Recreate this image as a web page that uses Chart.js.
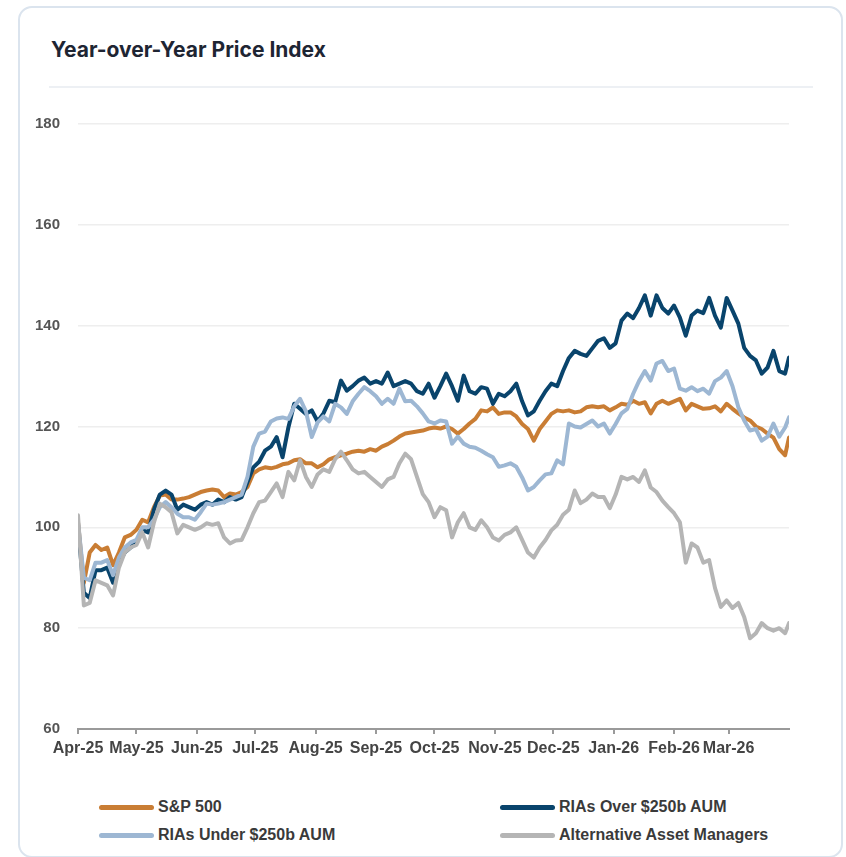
<!DOCTYPE html>
<html>
<head>
<meta charset="utf-8">
<script src="https://cdn.jsdelivr.net/npm/chart.js@4/dist/chart.umd.min.js"></script>
<style>
  body { margin: 0; background: #fff; width: 846px; height: 857px; overflow: hidden; position: relative; font-family: "Liberation Sans", Arial, sans-serif; }
  .card { position: absolute; left: 18px; top: 6px; width: 825px; height: 852px; box-sizing: border-box; border: 2px solid #dbe4ee; border-radius: 14px; }
  .title { position: absolute; left: 51px; top: 38px; font-family: Inter, sans-serif; font-weight: 700; font-size: 21px; color: #1e2533; line-height: 24px; }
  .sep { position: absolute; left: 49px; top: 86px; width: 764px; height: 2px; background: #edf0f4; }
  #chartWrap { position: absolute; left: 30px; top: 97px; width: 770px; height: 662px; }
  .legend-item { position: absolute; display: flex; align-items: center; font-weight: 700; font-size: 16px; color: #3a3a3a; }
  .legend-item span.swatch { display: inline-block; width: 55px; height: 5px; border-radius: 3px; margin-right: 4px; }
</style>
</head>
<body>
<div class="card"></div>
<div class="title">Year-over-Year Price Index</div>
<div class="sep"></div>
<div id="chartWrap"><canvas id="chart" width="770" height="662"></canvas></div>
<div id="legend"></div>
<script>
// day offsets from Apr 1, 2025
const days = [0, 3, 6, 9, 12, 15, 18, 21, 24, 27, 30, 33, 36, 39, 42, 45, 48, 51, 54, 57,
  60, 63, 66, 69, 72, 75, 78, 81, 84, 87, 90, 93, 96, 99, 102, 105, 108, 111, 114, 117,
  120, 123, 126, 129, 132, 135, 138, 141, 144, 147, 150, 153, 156, 159, 162, 165, 168, 171, 174, 177,
  180, 183, 186, 189, 192, 195, 198, 201, 204, 207, 210, 213, 216, 219, 222, 225, 228, 231, 234, 237,
  240, 243, 246, 249, 252, 255, 258, 261, 264, 267, 270, 273, 276, 279, 282, 285, 288, 291, 294, 297,
  300, 303, 306, 309, 312, 315, 318, 321, 324, 327, 330, 333, 336, 339, 342, 345, 348, 351, 354, 357,
  360, 363, 365];

const monthStarts = [0, 30, 61, 91, 122, 153, 183, 214, 244, 275, 306, 334];
const monthLabels = ['Apr-25', 'May-25', 'Jun-25', 'Jul-25', 'Aug-25', 'Sep-25', 'Oct-25', 'Nov-25', 'Dec-25', 'Jan-26', 'Feb-26', 'Mar-26'];
const yTicks = [60, 80, 100, 120, 140, 160, 180];

const sp500 = [101, 89, 95, 96.5, 95.5, 96, 92.5, 95, 98, 98.5, 99.5, 101.5, 101, 104, 106.3, 106.5, 105.5, 105.5, 105.7, 106,
  106.5, 107, 107.3, 107.5, 107.3, 106, 106.7, 106.5, 107, 108, 110.7, 111.5, 111.9, 111.7, 112, 112.5, 112.7, 113.3, 113.5, 112.7,
  112.7, 111.9, 112.5, 113.5, 113.9, 114.3, 114.6, 115, 115.2, 115, 115.5, 115.2, 116, 116.5, 117.2, 118, 118.6, 118.8, 119, 119.2,
  119.6, 119.8, 119.6, 120, 119.5, 118.6, 119.5, 120.6, 121.5, 123.2, 123, 123.8, 122.5, 122.8, 122.8, 122, 120.5, 119.5, 117.2, 119.5,
  121, 122.5, 123.2, 123, 123.2, 122.8, 123, 123.8, 124, 123.8, 124, 123.2, 123.8, 124.5, 124.3, 125.1, 124.5, 124.8, 122.6, 124.5,
  125.1, 124.5, 125, 125.5, 123.2, 124.5, 124, 123.5, 123.6, 124, 123, 124.5, 123.5, 122.6, 121.8, 121.2, 120, 119.5, 118.6, 117.8,
  115.5, 114.3, 117.8];

const riasOver = [100.5, 87, 86, 91.5, 91.5, 92, 89, 93, 95, 96, 97, 99.5, 99, 103.5, 106.5, 107.3, 106.5, 103.5, 104.5, 104,
  103.5, 104.5, 105, 104.5, 105.5, 105, 106, 105.5, 106, 109, 111.9, 113, 115.2, 116, 117.9, 113.9, 119.8, 124.5, 123.5, 122.5,
  123.2, 121, 122.6, 125.1, 124.8, 129.1, 127.1, 128, 129.1, 129.7, 128.5, 129, 128.5, 130.7, 128, 128.5, 129, 128.5, 127, 126.5,
  128.5, 125.7, 128, 130.5, 128, 125.1, 130.1, 127, 126.5, 127.8, 127.5, 124.5, 126.5, 126, 127, 128.5, 125, 122.2, 123, 125.1,
  127, 128.5, 128, 131, 133.6, 135, 134.4, 134, 135.5, 137, 137.5, 135.6, 136.5, 141, 142.4, 141.5, 143.5, 146, 142, 146,
  143.5, 142.4, 144, 141.6, 138, 142, 143, 142.5, 145.5, 142, 139.6, 145.5, 143, 140.4, 135.6, 134, 133.1, 130.5, 131.7, 135,
  131, 130.5, 133.7];

const riasUnder = [101, 90, 89.5, 93, 93, 93.5, 90.5, 94, 96, 97, 97.5, 100, 100, 101.5, 104, 105, 104, 102.7, 102, 102,
  101.5, 103, 104.7, 104.5, 104.7, 105, 105.5, 106, 106.5, 110, 116, 118.6, 119, 121, 121.6, 121.8, 121.5, 124, 125.5, 123,
  117.9, 120.8, 122, 121, 124.5, 123.8, 122.5, 125, 126.5, 127.8, 127, 126, 124.5, 125.5, 124.5, 127.5, 125, 125.1, 124, 122.6,
  121, 120.6, 121.2, 121, 116.6, 118, 116.6, 116, 115.8, 115.2, 114.5, 113.9, 112, 112.3, 112.7, 112, 109.9, 107.3, 108, 109.3,
  110.5, 110.7, 113.3, 112.5, 120.6, 120, 119.8, 120.5, 121.2, 120, 120.6, 118.6, 120.5, 122.6, 123.5, 126.5, 129, 131, 129.1, 132.5,
  133, 131, 131.5, 127.5, 127.1, 127.8, 127, 127.5, 126.5, 129, 129.7, 131, 128, 123.8, 121.2, 119.2, 119.5, 117.2, 118, 120.6,
  118, 119.8, 121.8];

const altManagers = [102.4, 84.5, 85, 89.5, 89, 88.5, 86.5, 92, 95, 96, 96.5, 99, 96, 101, 104.7, 104, 103, 98.8, 100.5, 100,
  99.5, 100, 100.8, 100.5, 100.8, 98, 96.8, 97.4, 97.5, 100, 102.8, 105, 105.3, 107, 108.7, 106, 111, 109.3, 113.3, 110,
  108, 110.5, 111.5, 111, 113.5, 115, 113.3, 111.5, 110.7, 111, 110, 109, 108, 109.5, 110, 112.7, 114.6, 113.5, 110, 106.6,
  105, 102, 104, 103.4, 98, 101, 102.8, 100, 99.5, 101.4, 100, 98, 97.4, 98.5, 99, 100, 97.5, 95, 94, 96,
  97.5, 99.4, 100.5, 102.5, 103.5, 107.3, 104.8, 105.5, 106.7, 106, 106, 103.8, 106.5, 110, 109.5, 110, 109, 111.3, 107.9, 107,
  105.3, 104, 102.8, 101, 93, 96.8, 96, 93, 93.5, 88, 84.2, 85.5, 84, 85, 82.2, 78, 79, 81, 80, 79.5,
  80, 79, 81];

const seriesNames = ['S&P 500', 'RIAs Over $250b AUM', 'RIAs Under $250b AUM', 'Alternative Asset Managers'];
const seriesColors = ['#c97d34', '#09446c', '#9db7d3', '#b5b5b5'];
const seriesValues = [sp500, riasOver, riasUnder, altManagers];

function toPoints(values) {
  return values.map((v, i) => ({ x: days[i], y: v }));
}

// draw order: alternative managers on top, S&P at the bottom
const drawOrder = [3, 2, 1, 0];
const datasets = drawOrder.map(i => ({
  label: seriesNames[i],
  data: toPoints(seriesValues[i]),
  borderColor: seriesColors[i],
  borderWidth: 4,
  pointRadius: 0,
  tension: 0,
  borderJoinStyle: 'round',
  borderCapStyle: 'round',
  fill: false
}));

const ctx = document.getElementById('chart').getContext('2d');
const chart = new Chart(ctx, {
  type: 'line',
  data: { datasets: datasets },
  options: {
    responsive: false,
    animation: false,
    layout: { padding: { top: 10, right: 11, left: 0, bottom: 0 } },
    plugins: { legend: { display: false }, tooltip: { enabled: false } },
    scales: {
      x: {
        type: 'linear',
        min: 0,
        max: 365,
        afterBuildTicks: axis => { axis.ticks = monthStarts.map(v => ({ value: v })); },
        afterFit: axis => { axis.height = 30; },
        ticks: {
          autoSkip: false,
          maxRotation: 0,
          padding: 5,
          color: '#444',
          font: { family: '"Liberation Sans", Arial, sans-serif', size: 16, weight: 'bold' },
          callback: (value) => monthLabels[monthStarts.indexOf(value)]
        },
        grid: { drawOnChartArea: false, drawTicks: true, tickLength: 5, color: '#9a9a9a', lineWidth: 2 },
        border: { display: true, color: '#9a9a9a', width: 2 }
      },
      y: {
        min: 60,
        max: 180,
        afterBuildTicks: axis => { axis.ticks = yTicks.map(v => ({ value: v })); },
        afterFit: axis => { axis.width = 48; },
        ticks: {
          padding: 18,
          color: '#555',
          font: { family: '"Liberation Sans", Arial, sans-serif', size: 15, weight: 'bold' }
        },
        grid: { color: '#eeeeee', lineWidth: 1.5, drawTicks: false },
        border: { display: false }
      }
    }
  }
});

// legend in two columns, as in the original
const legendPos = [[99, 797], [500, 797], [99, 825], [500, 825]];
const legend = document.getElementById('legend');
seriesNames.forEach((name, i) => {
  const item = document.createElement('div');
  item.className = 'legend-item';
  item.style.left = legendPos[i][0] + 'px';
  item.style.top = legendPos[i][1] + 'px';
  item.style.height = '20px';
  const sw = document.createElement('span');
  sw.className = 'swatch';
  sw.style.background = seriesColors[i];
  const txt = document.createElement('span');
  txt.textContent = name;
  item.appendChild(sw);
  item.appendChild(txt);
  legend.appendChild(item);
});
</script>
</body>
</html>
